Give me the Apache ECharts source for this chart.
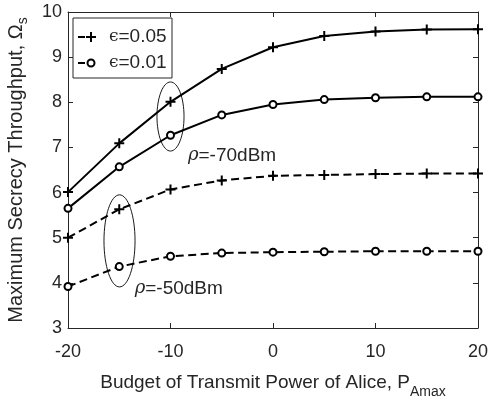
<!DOCTYPE html>
<html>
<head>
<meta charset="utf-8">
<script src="https://cdn.jsdelivr.net/npm/echarts@6/dist/echarts.min.js"></script>
<style>
  html, body { margin: 0; padding: 0; background: #fff; overflow: hidden; }
  #chart { width: 489px; height: 396px; }
</style>
</head>
<body>
<div id="chart"></div>
<script>
// Transmit power budget of Alice (dBm)
const powerBudget = [-20, -15, -10, -5, 0, 5, 10, 15, 20];

// Maximum secrecy throughput, rho = -70 dBm
const eps005Rho70 = [6.01, 7.09, 8.01, 8.74, 9.22, 9.47, 9.57, 9.61, 9.62];
const eps001Rho70 = [5.65, 6.57, 7.27, 7.72, 7.95, 8.06, 8.10, 8.12, 8.12];
// Maximum secrecy throughput, rho = -50 dBm
const eps005Rho50 = [5.00, 5.63, 6.07, 6.27, 6.37, 6.39, 6.41, 6.42, 6.42];
const eps001Rho50 = [3.92, 4.36, 4.59, 4.66, 4.68, 4.69, 4.70, 4.70, 4.70];

const xTicks = [-20, -10, 0, 10, 20];
const yTicks = [3, 4, 5, 6, 7, 8, 9, 10];

// Group annotations, in data units: ellipse bounds and label anchors
const ellipse70 = { xMin: -11.32, xMax: -8.68, yMin: 6.92, yMax: 8.45 };
const ellipse50 = { xMin: -16.49, xMax: -13.46, yMin: 3.91, yMax: 5.95 };
const label70 = { x: -8.3, y: 6.82, text: '-70dBm' };
const label50 = { x: -13.5, y: 3.87, text: '-50dBm' };

const FONT = 'Liberation Sans, Arial, sans-serif';
const INK = '#000';
const AXIS = '#262626';

const plusPath = 'path://M4,0 L6,0 L6,4 L10,4 L10,6 L6,6 L6,10 L4,10 L4,6 L0,6 L0,4 L4,4 Z';

function toPairs(values) {
  return powerBudget.map((x, i) => [x, values[i]]);
}

function makeSeries(name, values, marker, dashed) {
  const isPlus = marker === 'plus';
  return {
    name: name,
    type: 'line',
    data: toPairs(values),
    symbol: isPlus ? plusPath : 'circle',
    symbolSize: isPlus ? 10 : 7,
    showAllSymbol: true,
    lineStyle: { color: INK, width: 2, type: dashed ? [8, 4.5] : 'solid' },
    itemStyle: isPlus
      ? { color: INK, borderWidth: 0 }
      : { color: '#fff', borderColor: INK, borderWidth: 2 },
    emphasis: { disabled: true },
    animation: false,
    z: isPlus ? 3 : 4
  };
}

const chart = echarts.init(document.getElementById('chart'), null, { renderer: 'canvas' });

const axisCommon = {
  axisLine: { show: true, onZero: false, lineStyle: { color: AXIS, width: 1 } },
  axisTick: { show: true, inside: true, length: 5, lineStyle: { color: AXIS, width: 1 } },
  splitLine: { show: false }
};

chart.setOption({
  backgroundColor: '#fff',
  animation: false,
  grid: { left: 68, right: 11, top: 12, bottom: 68, containLabel: false, outerBoundsMode: 'none' },
  xAxis: [
    Object.assign({
      type: 'value', min: -20, max: 20, interval: 10, position: 'bottom',
      axisLabel: { color: AXIS, fontFamily: FONT, fontSize: 18, margin: 15,
        formatter: v => (xTicks.includes(v) ? String(v) : '') },
      name: '{t|Budget of Transmit Power of Alice, P}{s|Amax}',
      nameLocation: 'middle', nameGap: 39,
      nameTextStyle: {
        rich: {
          t: { fontFamily: FONT, fontSize: 19, color: AXIS },
          s: { fontFamily: FONT, fontSize: 14, color: AXIS, padding: [18, 0, 0, 0] }
        }
      }
    }, axisCommon),
    Object.assign({
      type: 'value', min: -20, max: 20, interval: 10, position: 'top',
      axisLabel: { show: false }
    }, axisCommon)
  ],
  yAxis: [
    Object.assign({
      type: 'value', min: 3, max: 10, interval: 1, position: 'left',
      axisLabel: { color: AXIS, fontFamily: FONT, fontSize: 18, margin: 6,
        formatter: v => (yTicks.includes(v) ? String(v) : '') },
      name: '{t|Maximum Secrecy Throughput, Ω}{s|s}',
      nameLocation: 'middle', nameGap: 38,
      nameTextStyle: {
        rich: {
          t: { fontFamily: FONT, fontSize: 20, color: AXIS },
          s: { fontFamily: FONT, fontSize: 14, color: AXIS, padding: [14, 0, 0, 0] }
        }
      }
    }, axisCommon),
    Object.assign({
      type: 'value', min: 3, max: 10, interval: 1, position: 'right',
      axisLabel: { show: false }
    }, axisCommon)
  ],
  series: [
    makeSeries('ε=0.05, ρ=-70dBm', eps005Rho70, 'plus', false),
    makeSeries('ε=0.01, ρ=-70dBm', eps001Rho70, 'circle', false),
    makeSeries('ε=0.05, ρ=-50dBm', eps005Rho50, 'plus', true),
    makeSeries('ε=0.01, ρ=-50dBm', eps001Rho50, 'circle', true)
  ]
});

// Annotations and legend box placed through the axis scales
function px(x, y) {
  return chart.convertToPixel({ xAxisIndex: 0, yAxisIndex: 0 }, [x, y]);
}

function ellipseShape(b) {
  const p1 = px(b.xMin, b.yMax);
  const p2 = px(b.xMax, b.yMin);
  return {
    type: 'ellipse',
    shape: { cx: (p1[0] + p2[0]) / 2, cy: (p1[1] + p2[1]) / 2,
             rx: (p2[0] - p1[0]) / 2, ry: (p2[1] - p1[1]) / 2 },
    style: { fill: 'none', stroke: INK, lineWidth: 0.9 },
    z: 10
  };
}

function rhoLabel(l) {
  const p = px(l.x, l.y);
  return {
    type: 'text', x: p[0], y: p[1],
    style: {
      text: '{r|ρ}{t|=' + l.text + '}',
      verticalAlign: 'middle', align: 'left',
      rich: {
        r: { fontFamily: 'DejaVu Serif, serif', fontStyle: 'italic', fontSize: 18, fill: AXIS },
        t: { fontFamily: FONT, fontSize: 19, fill: AXIS }
      }
    },
    z: 10
  };
}

const x0 = px(-20, 10);
const legX = x0[0] + 5, legY = x0[1] + 6, legW = 99, legH = 60;

function plusPoints(cx, cy, half, arm) {
  return [
    [cx - arm, cy - half], [cx + arm, cy - half], [cx + arm, cy - arm], [cx + half, cy - arm],
    [cx + half, cy + arm], [cx + arm, cy + arm], [cx + arm, cy + half], [cx - arm, cy + half],
    [cx - arm, cy + arm], [cx - half, cy + arm], [cx - half, cy - arm], [cx - arm, cy - arm]
  ];
}

function legendRow(cy, marker, label) {
  const items = [
    { type: 'line', shape: { x1: legX + 5, y1: cy, x2: legX + 24, y2: cy },
      style: { stroke: INK, lineWidth: 2, lineDash: [7, 3] }, z: 21 }
  ];
  if (marker === 'plus') {
    items.push({ type: 'polygon', shape: { points: plusPoints(legX + 18, cy, 5, 1) },
      style: { fill: INK }, z: 22 });
  } else {
    items.push({ type: 'circle', shape: { cx: legX + 18, cy: cy, r: 3.5 },
      style: { fill: '#fff', stroke: INK, lineWidth: 2 }, z: 22 });
  }
  items.push({
    type: 'text', x: legX + 36, y: cy,
    style: {
      text: '{e|ϵ}{t|=' + label + '}', verticalAlign: 'middle',
      rich: {
        e: { fontFamily: 'DejaVu Serif, serif', fontSize: 17, fill: AXIS },
        t: { fontFamily: FONT, fontSize: 19, fill: AXIS }
      }
    }, z: 22
  });
  return items;
}

chart.setOption({
  graphic: [
    ellipseShape(ellipse70),
    ellipseShape(ellipse50),
    rhoLabel(label70),
    rhoLabel(label50),
    { type: 'rect', shape: { x: legX, y: legY, width: legW, height: legH },
      style: { fill: '#fff', stroke: AXIS, lineWidth: 1 }, z: 20 }
  ].concat(legendRow(legY + 19, 'plus', '0.05'), legendRow(legY + 45, 'circle', '0.01'))
});
</script>
</body>
</html>
